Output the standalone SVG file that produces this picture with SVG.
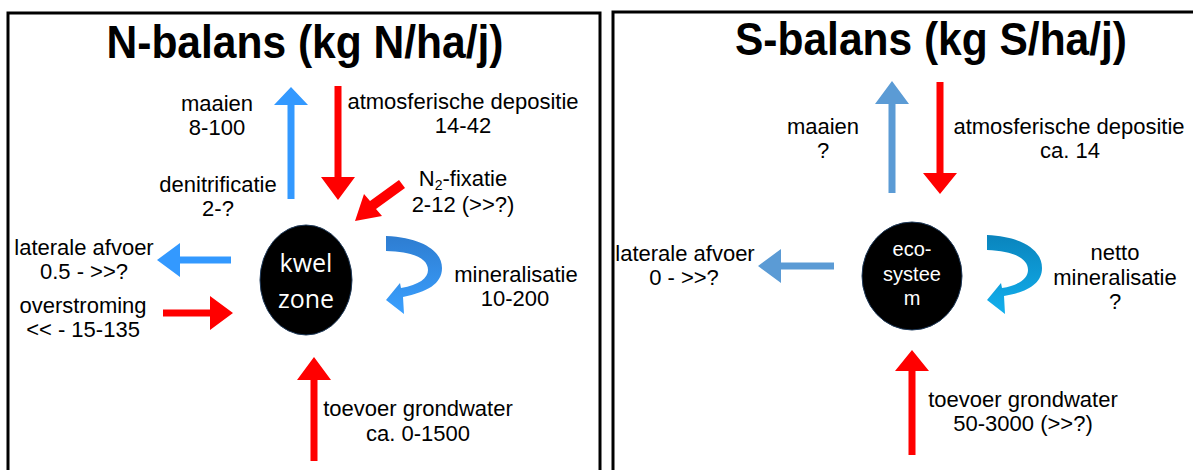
<svg xmlns="http://www.w3.org/2000/svg" width="1193" height="470" viewBox="0 0 1193 470">
<defs>
<style>
.frame{fill:none;stroke:#000;stroke-width:3}
.title{font-family:"Liberation Sans",Arial,sans-serif;font-weight:bold;font-size:46px;fill:#000;text-anchor:middle}
.lbl{font-family:"Liberation Sans",Arial,sans-serif;font-size:22px;fill:#000;text-anchor:middle}
.node{fill:#000;stroke:#1f3a5a;stroke-width:1}
.ntxt{font-family:"Open Sans",sans-serif;font-size:25px;fill:#fff;text-anchor:middle}
.ntxt2{font-family:"Liberation Sans",Arial,sans-serif;font-size:20px;fill:#fff;text-anchor:middle}
.red{fill:#ff0000}
.blue{fill:#3399ff}
.blue2{fill:#5b9bd5}
</style>
<linearGradient id="gL" x1="0" y1="0" x2="0" y2="1">
<stop offset="0" stop-color="#2e7dd1"/>
<stop offset="1" stop-color="#3aa0ff"/>
</linearGradient>
<linearGradient id="gR" x1="0" y1="0" x2="0" y2="1">
<stop offset="0" stop-color="#0a84bd"/>
<stop offset="1" stop-color="#12b0ee"/>
</linearGradient>
</defs>
<rect width="1193" height="470" fill="#fff"/>
<rect class="frame" x="8" y="13" width="592" height="470"/>
<rect class="frame" x="613" y="12" width="600" height="470"/>
<text class="title" x="305" y="58" textLength="397" lengthAdjust="spacingAndGlyphs">N-balans (kg N/ha/j)</text>
<text class="title" x="931" y="55" textLength="392" lengthAdjust="spacingAndGlyphs">S-balans (kg S/ha/j)</text>

<g id="connectors">
<polygon id="maaienN" class="blue" points="291,87 308,105 294.5,105 294.5,199 287.5,199 287.5,105 274,105"/>
<polygon id="depoN" class="red" points="334.5,86 341.5,86 341.5,177 355,177 338,200 321,177 334.5,177"/>
<polygon id="fixN" class="red" points="355,221 364,194 370,201 399,180 405,188 376,209 382,216"/>
<polygon id="latN" class="blue" points="157,260 180,243 180,256.5 231,256.5 231,263.5 180,263.5 180,277"/>
<polygon id="overN" class="red" points="233,313 210,296 210,309.5 163,309.5 163,316.5 210,316.5 210,330"/>
<polygon id="grondN" class="red" points="314,357 331,380 317.5,380 317.5,461 310.5,461 310.5,380 297,380"/>
<path id="minN" fill="url(#gL)" d="M386,236 C426,238 442,253 442,268 C442,284 427,292 403,297 L404,314 L386,300 L400,283 L401,288 C419,285 428,278 428,270 C428,259 415,252 386,251 Z"/>
<polygon id="maaienS" class="blue2" points="892,81 909,104 895.5,104 895.5,193 888.5,193 888.5,104 875,104"/>
<polygon id="depoS" class="red" points="936.5,82 943.5,82 943.5,173 957,173 940,194 923,173 936.5,173"/>
<polygon id="latS" class="blue2" points="758,266 781,249 781,262.5 834,262.5 834,269.5 781,269.5 781,283"/>
<polygon id="grondS" class="red" points="912,350 929,371 915.5,371 915.5,455 908.5,455 908.5,371 895,371"/>
<path id="minS" fill="url(#gR)" d="M987,235 C1026,237 1042,252 1042,268 C1042,284 1027,292 1004,296 L1005,314 L987,300 L1001,283 L1002,288 C1020,285 1028,278 1028,270 C1028,259 1015,251 987,250 Z"/>
</g>

<g id="kwelzone">
<ellipse class="node" cx="306" cy="280" rx="46" ry="55"/>
<text class="ntxt" x="306" y="272">kwel</text>
<text class="ntxt" x="306" y="308">zone</text>
</g>
<g id="ecosysteem">
<ellipse class="node" cx="912" cy="276" rx="50" ry="54"/>
<text class="ntxt2" x="912" y="256">eco-</text>
<text class="ntxt2" x="912" y="281">systee</text>
<text class="ntxt2" x="912" y="305">m</text>
</g>

<g id="labelsN">
<text class="lbl" x="217" y="111">maaien</text>
<text class="lbl" x="217" y="135">8-100</text>
<text class="lbl" x="463" y="109">atmosferische depositie</text>
<text class="lbl" x="463" y="133">14-42</text>
<text class="lbl" x="218" y="192">denitrificatie</text>
<text class="lbl" x="218" y="216">2-?</text>
<text class="lbl" x="463" y="186">N<tspan font-size="14" dy="4">2</tspan><tspan dy="-4">-fixatie</tspan></text>
<text class="lbl" x="463" y="212">2-12 (&gt;&gt;?)</text>
<text class="lbl" x="84" y="255">laterale afvoer</text>
<text class="lbl" x="84" y="279">0.5 - &gt;&gt;?</text>
<text class="lbl" x="83" y="313">overstroming</text>
<text class="lbl" x="83" y="337">&lt;&lt; - 15-135</text>
<text class="lbl" x="516" y="282">mineralisatie</text>
<text class="lbl" x="515" y="306">10-200</text>
<text class="lbl" x="418" y="416">toevoer grondwater</text>
<text class="lbl" x="418" y="441">ca. 0-1500</text>
</g>
<g id="labelsS">
<text class="lbl" x="823" y="134">maaien</text>
<text class="lbl" x="823" y="158">?</text>
<text class="lbl" x="1069" y="134">atmosferische depositie</text>
<text class="lbl" x="1070" y="158">ca. 14</text>
<text class="lbl" x="685" y="261">laterale afvoer</text>
<text class="lbl" x="684" y="285">0 - &gt;&gt;?</text>
<text class="lbl" x="1115" y="260">netto</text>
<text class="lbl" x="1115" y="285">mineralisatie</text>
<text class="lbl" x="1115" y="309">?</text>
<text class="lbl" x="1023" y="407">toevoer grondwater</text>
<text class="lbl" x="1023" y="431">50-3000 (&gt;&gt;?)</text>
</g>
</svg>
